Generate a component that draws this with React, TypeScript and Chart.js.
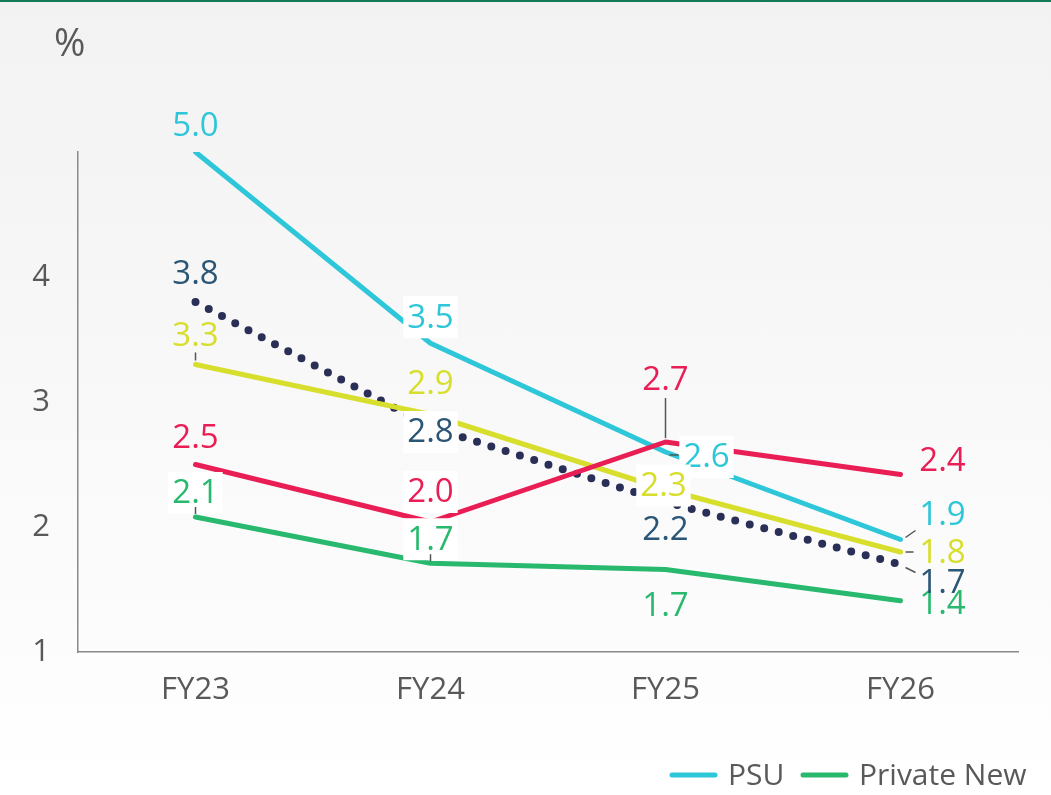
import React, { useEffect, useRef } from "react";
import { Chart, registerables } from "chart.js";

Chart.register(...registerables);

const categories = ["FY23", "FY24", "FY25", "FY26"];
const psuValues = [5.0, 3.47, 2.6, 1.9];
const privateNewValues = [2.08, 1.71, 1.66, 1.41];
const redValues = [2.5, 2.04, 2.68, 2.42];
const yellowValues = [3.3, 2.9, 2.3, 1.8];
const navyValues = [3.8, 2.8, 2.2, 1.7];
const yTickValues = [1, 2, 3, 4];
const unitLabel = "%";
const legendItems = ["PSU", "Private New"];

const FONT = "'Open Sans', 'Noto Sans', sans-serif";
const TEXT_GREY = "#595959";
const C_PSU = "#2ec6d9";
const C_GREEN = "#28b96f";
const C_RED = "#e91e55";
const C_YELLOW = "#d7de2c";
const C_NAVY_DOT = "#2a2f57";
const C_NAVY_TXT = "#2b5675";

type LabelCfg = {
  ds: number;
  i: number;
  dx: number;
  dy: number;
  color: string;
  box?: boolean;
  leader?: [number, number, number, number];
};

// dataset order: 0 red, 1 psu, 2 green, 3 yellow, 4 navy
const labelCfg: LabelCfg[] = [
  { ds: 1, i: 0, dx: 0, dy: -26, color: C_PSU },
  { ds: 1, i: 1, dx: 0, dy: -26, color: C_PSU, box: true },
  { ds: 1, i: 2, dx: 41, dy: 5, color: C_PSU, box: true, leader: [4, 3, 13, 3] },
  { ds: 1, i: 3, dx: 42, dy: -25, color: C_PSU, leader: [5, -2, 15, -9] },
  { ds: 2, i: 0, dx: 0, dy: -24, color: C_GREEN, box: true, leader: [0, -3, 0, -10] },
  { ds: 2, i: 1, dx: 0, dy: -24, color: C_GREEN, box: true, leader: [0, -2, 0, -9] },
  { ds: 2, i: 2, dx: 0, dy: 36, color: C_GREEN },
  { ds: 2, i: 3, dx: 42, dy: 3, color: C_GREEN },
  { ds: 0, i: 0, dx: 0, dy: -27, color: C_RED },
  { ds: 0, i: 1, dx: 0, dy: -30, color: C_RED, box: true },
  { ds: 0, i: 2, dx: 0, dy: -62, color: C_RED, leader: [0, -4, 0, -44] },
  { ds: 0, i: 3, dx: 42, dy: -14, color: C_RED },
  { ds: 3, i: 0, dx: 0, dy: -29, color: C_YELLOW, leader: [0, -4, 0, -12] },
  { ds: 3, i: 1, dx: 0, dy: -31, color: C_YELLOW },
  { ds: 3, i: 2, dx: -2, dy: -4, color: C_YELLOW, box: true },
  { ds: 3, i: 3, dx: 42, dy: 1, color: C_YELLOW, leader: [5, 0, 13, 0] },
  { ds: 4, i: 0, dx: 0, dy: -28, color: C_NAVY_TXT },
  { ds: 4, i: 1, dx: 0, dy: 5, color: C_NAVY_TXT, box: true },
  { ds: 4, i: 2, dx: 0, dy: 28, color: C_NAVY_TXT },
  { ds: 4, i: 3, dx: 42, dy: 18, color: C_NAVY_TXT, leader: [5, 3, 15, 8] },
];

const decorPlugin = {
  id: "decor",
  afterDatasetsDraw(chart: any) {
    const ctx = chart.ctx as CanvasRenderingContext2D;
    ctx.save();
    ctx.font = `33px ${FONT}`;
    ctx.textAlign = "center";
    ctx.textBaseline = "middle";
    for (const l of labelCfg) {
      const el = chart.getDatasetMeta(l.ds).data[l.i];
      const v = chart.data.datasets[l.ds].data[l.i] as number;
      const x = el.x;
      const y = el.y;
      const tx = x + l.dx;
      const ty = y + l.dy;
      const txt = v.toFixed(1);
      if (l.box) {
        const w = ctx.measureText(txt).width + 8;
        ctx.fillStyle = "#ffffff";
        ctx.fillRect(tx - w / 2, ty - 21, w, 42);
      }
      if (l.leader) {
        ctx.strokeStyle = "#555555";
        ctx.lineWidth = 1.5;
        ctx.beginPath();
        ctx.moveTo(x + l.leader[0], y + l.leader[1]);
        ctx.lineTo(x + l.leader[2], y + l.leader[3]);
        ctx.stroke();
      }
      ctx.fillStyle = l.color;
      ctx.fillText(txt, tx, ty + 1);
    }
    ctx.restore();
  },
  afterDraw(chart: any) {
    const ctx = chart.ctx as CanvasRenderingContext2D;
    ctx.save();
    ctx.fillStyle = "#137a59";
    ctx.fillRect(0, 0, chart.width, 2);
    ctx.fillStyle = TEXT_GREY;
    ctx.font = `38px ${FONT}`;
    ctx.textAlign = "left";
    ctx.textBaseline = "middle";
    ctx.fillText(unitLabel, 54, 45);
    const colors = [C_PSU, C_GREEN];
    const starts = [672, 803];
    ctx.font = `30px ${FONT}`;
    legendItems.forEach((name, k) => {
      ctx.strokeStyle = colors[k];
      ctx.lineWidth = 5;
      ctx.lineCap = "round";
      ctx.beginPath();
      ctx.moveTo(starts[k], 775);
      ctx.lineTo(starts[k] + 43, 775);
      ctx.stroke();
      ctx.fillStyle = TEXT_GREY;
      ctx.fillText(name, starts[k] + 56, 776);
    });
    ctx.restore();
  },
};

export default function App() {
  const ref = useRef<HTMLCanvasElement | null>(null);
  useEffect(() => {
    document.body.style.margin = "0";
    const canvas = ref.current!;
    const line = (label: string, data: number[], color: string, extra: any = {}) => ({
      label,
      data,
      borderColor: color,
      backgroundColor: color,
      borderWidth: 5,
      pointRadius: 0,
      tension: 0,
      fill: false,
      borderCapStyle: "round",
      borderJoinStyle: "round",
      ...extra,
    });
    const chart = new Chart(canvas, {
      type: "line",
      data: {
        labels: categories,
        datasets: [
          line("Series 3", redValues, C_RED),
          line("PSU", psuValues, C_PSU),
          line("Private New", privateNewValues, C_GREEN),
          line("Series 4", yellowValues, C_YELLOW),
          line("Series 5", navyValues, C_NAVY_DOT, {
            borderDash: [0, 15],
            borderWidth: 8,
          }),
        ],
      },
      options: {
        responsive: false,
        animation: false,
        events: [],
        layout: { padding: { top: 152, right: 33, left: 0, bottom: 0 } },
        plugins: {
          legend: { display: false },
          tooltip: { enabled: false },
        },
        scales: {
          x: {
            type: "category",
            offset: true,
            grid: { display: false },
            border: { display: true, color: "#8a8a8a", width: 1.5 },
            ticks: {
              color: TEXT_GREY,
              font: { family: FONT, size: 31 },
              padding: 12,
              maxRotation: 0,
            },
            afterFit: (s: any) => {
              s.height = 143;
            },
          },
          y: {
            min: 1,
            max: 5,
            grid: { display: false },
            border: { display: true, color: "#8a8a8a", width: 1.5 },
            ticks: {
              stepSize: 1,
              color: TEXT_GREY,
              font: { family: FONT, size: 31 },
              padding: 20,
              callback: (v: any) => (yTickValues.includes(Number(v)) ? String(v) : ""),
            },
            afterFit: (s: any) => {
              s.width = 78;
            },
          },
        },
      } as any,
      plugins: [decorPlugin],
    });
    return () => chart.destroy();
  }, []);
  return (
    <div
      style={{
        position: "absolute",
        left: 0,
        top: 0,
        width: 1051,
        height: 795,
        background: "linear-gradient(to bottom, #f2f2f2 0%, #ffffff 100%)",
      }}
    >
      <canvas ref={ref} width={1051} height={795} style={{ display: "block" }} />
    </div>
  );
}
